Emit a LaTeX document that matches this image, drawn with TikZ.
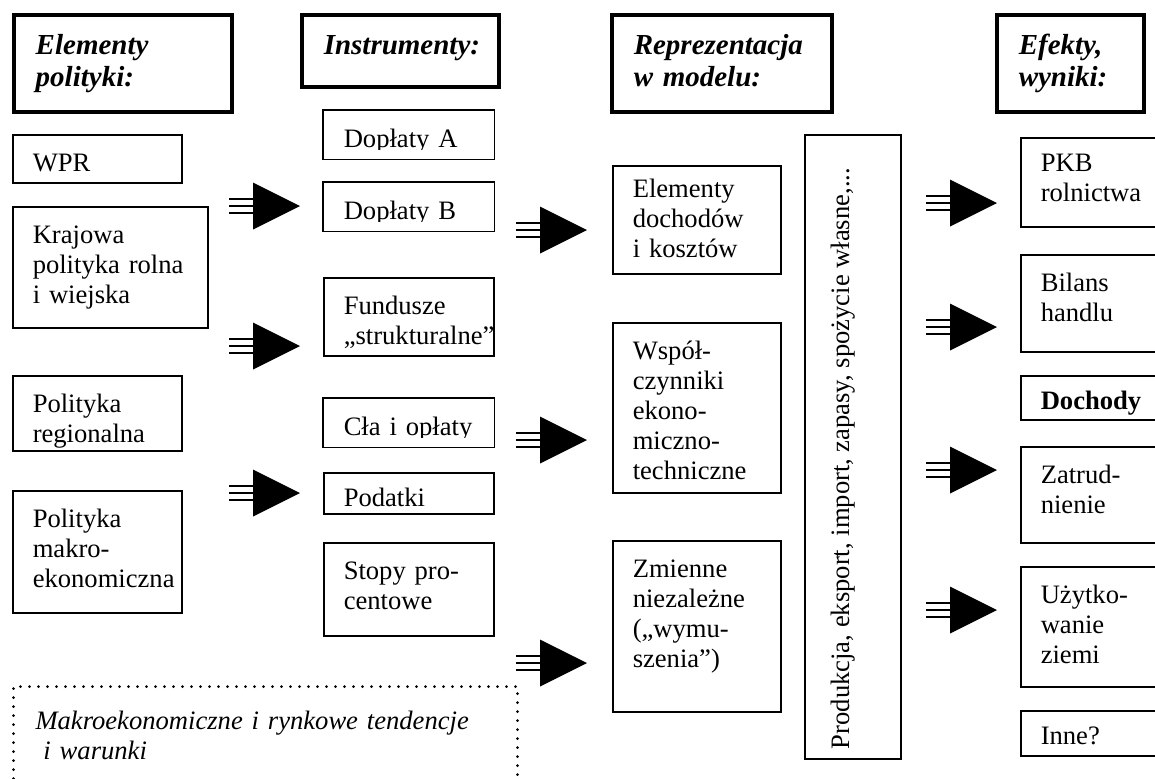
\documentclass[tikz,border=0pt]{standalone}
\usepackage{fontspec}
\setmainfont{Liberation Serif}
\usetikzlibrary{positioning, calc}

\newcommand{\bodyfont}{\fontsize{13.3}{15}\selectfont}
\newcommand{\headfont}{\fontsize{14.5}{16}\selectfont\bfseries\itshape}

\begin{document}
\begin{tikzpicture}[
        x=0.5pt, y=-0.5pt, % 1 jednostka = 1 piksel
        % --- STYLE ---
        cell/.style 2 args={
                draw, line width=0.75pt,
                anchor=north west,
                align=left,
                inner xsep=0pt, inner ysep=0pt,
                text width=#1*0.5pt,
                text height=18.5pt,
                text depth=#2*0.5pt-18.5pt,
                execute at begin node={\leftskip=10pt \hyphenpenalty=10000 },
                font=\bodyfont
            },
        head/.style 2 args={
                cell={#1}{#2},
                line width=1.75pt,
                text height=20pt,
                text depth=#2*0.5pt-20pt,
                execute at begin node={\leftskip=11pt },
                font=\headfont
            },
        note/.style 2 args={
                cell={#1}{#2},
                line width=1.5pt,
                dash pattern=on 0pt off 4.5pt,
                line cap=round,
                text height=21.5pt,
                text depth=#2*0.5pt-21.5pt,
                execute at begin node={\leftskip=11pt },
                font=\bodyfont\itshape
            },
        blockarrow/.pic={
                \fill (-47,-23.5) -- (0,0) -- (-47,23.5) -- cycle;
                \foreach \dy in {-7,0,7}
                    \draw[line width=1pt] (-71,\dy) -- (-46,\dy);
            }
    ]

    \useasboundingbox (0,0) rectangle (1155,778);

    % 1. Naglowki kolumn
    \node[head={218}{97}] (hpol) at (12,13) {Elementy\\polityki:};
    \node[head={197}{72}] (hins) at (300,13) {Instrumenty:};
    \node[head={220}{97}] (hrep) at (610,13) {Reprezentacja\\w modelu:};
    \node[head={147}{97}] (hefe) at (995,13) {Efekty,\\wyniki:};

    % 2. Elementy polityki
    \node[cell={169}{48}] (wpr) at (12,134) {WPR};
    \node[cell={195}{121}] (kraj) at (12,206) {Krajowa\\polityka rolna\\i wiejska};
    \node[cell={169}{75}] (reg) at (12,375) {Polityka\\regionalna};
    \node[cell={169}{122}] (makro) at (12,490) {Polityka\\makro-\\ekonomiczna};

    % 3. Instrumenty (tekst przyciety u dolu)
    \begin{scope}
        \clip (300,100) rectangle (500,149);
        \node[cell={170}{48}, draw=none] (dopA) at (323,110) {Dopłaty A};
    \end{scope}
    \draw[line width=0.75pt] (dopA.north west) rectangle (dopA.south east);
    \begin{scope}
        \clip (300,170) rectangle (500,221);
        \node[cell={170}{48}, draw=none] (dopB) at (323,182) {Dopłaty B};
    \end{scope}
    \draw[line width=0.75pt] (dopB.north west) rectangle (dopB.south east);
    \node[cell={170}{78}] (fund) at (323,277) {Fundusze\\„strukturalne”};
    \begin{scope}
        \clip (300,390) rectangle (500,437);
        \node[cell={170}{48}, draw=none] (cla) at (323,398) {Cła i opłaty};
    \end{scope}
    \draw[line width=0.75pt] (cla.north west) rectangle (cla.south east);
    \node[cell={170}{44}, text height=17pt] (pod) at (323,472) {Podatki};
    \node[cell={170}{93}] (stopy) at (323,542) {Stopy pro-\\centowe};

    % 4. Reprezentacja w modelu
    \node[cell={168}{113}, text height=16pt] (elem) at (612,165) {Elementy\\dochodów\\i kosztów};
    \node[cell={168}{170}] (wsp) at (612,322) {Współ-\\czynniki\\ekono-\\miczno-\\techniczne};
    \node[cell={168}{171}] (zm) at (612,540) {Zmienne\\niezależne\\(„wymu-\\szenia”)};

    % pionowa ramka
    \node[cell={96}{624}] (prod) at (804,134) {};
    \node[font=\bodyfont, rotate=90, anchor=base west, inner sep=0pt] (prodtxt)
        at ($(prod.south)+(-3,-10)$) {Produkcja, eksport, import, zapasy, spożycie własne,...};

    % 5. Efekty, wyniki
    \node[cell={160}{92}, text height=17pt] (pkb) at (1020,137) {PKB\\rolnictwa};
    \node[cell={160}{97}] (bil) at (1020,254) {Bilans\\handlu};
    \node[cell={160}{47}, text height=17pt] (doch) at (1020,375) {\textbf{Dochody}};
    \node[cell={160}{96}] (zat) at (1020,446) {Zatrud-\\nienie};
    \node[cell={160}{120}] (uzy) at (1020,566) {Użytko-\\wanie\\ziemi};
    \node[cell={160}{48}, text height=17pt] (inne) at (1020,710) {Inne?};

    % 6. Tendencje
    \node[note={504}{115}] (tend) at (12,685) {Makroekonomiczne i rynkowe tendencje\\\hspace*{0.3em}i warunki};

    % 7. Strzalki
    \foreach \ax/\ay in {300/206, 300/346, 300/493, 587/230, 587/440, 587/663,
                         997/203, 997/327, 997/470, 997/610}
        \pic at (\ax,\ay) {blockarrow};

\end{tikzpicture}
\end{document}
